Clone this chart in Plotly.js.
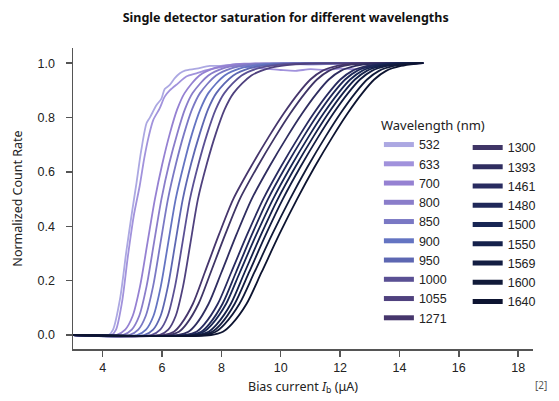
<!DOCTYPE html>
<html>
<head>
<meta charset="utf-8">
<script src="https://cdn.plot.ly/plotly-3.0.1.min.js"></script>
<style>html,body{margin:0;padding:0;background:#fff;}#chart{width:559px;height:401px;}</style>
</head>
<body>
<div id="chart"></div>
<script>
// Wavelengths (nm) and line colours
const wavelengths = ["532","633","700","800","850","900","950","1000","1055","1271","1300","1393","1461","1480","1500","1550","1569","1600","1640"];
const colors = ["#aca8e2","#a192dc","#9581d2","#8a7dca","#7a78c4","#6474c2","#5d67b2","#5a5094","#4f417e","#46366c","#3f3566","#2f2d60","#282b60","#1f2859","#182654","#15214b","#131d42","#111a39","#0d1431"];

// Bias current (uA) / normalized count rate
const x_532 = [3, 4.2, 4.35, 4.58, 4.8, 5.0, 5.14, 5.3, 5.48, 5.59, 5.81, 5.98, 6.09, 6.26, 6.43, 6.6, 6.77, 7.16, 7.61, 7.95, 8.5, 9.2, 10, 11, 12, 13, 14, 14.8];
const y_532 = [0, 0, 0.02, 0.13, 0.31, 0.46, 0.56, 0.68, 0.78, 0.80, 0.845, 0.87, 0.905, 0.92, 0.945, 0.963, 0.973, 0.98, 0.99, 0.99, 0.997, 0.993, 0.998, 0.995, 0.998, 0.997, 1.0, 1.0];
const x_633 = [3, 4.3, 4.45, 4.65, 4.85, 5.05, 5.25, 5.4, 5.55, 5.7, 5.92, 6.09, 6.26, 6.54, 6.82, 7.16, 7.5, 7.95, 8.5, 9, 9.5, 10, 10.5, 11, 11.5, 12, 12.5, 13, 13.5, 14, 14.8];
const y_633 = [0, 0, 0.02, 0.12, 0.29, 0.44, 0.55, 0.65, 0.73, 0.79, 0.834, 0.877, 0.90, 0.926, 0.951, 0.963, 0.975, 0.985, 0.99, 0.985, 0.98, 0.975, 0.972, 0.978, 0.975, 0.98, 0.978, 0.985, 0.99, 0.995, 1.0];

const y_mid = [0, 0, 0.02, 0.07, 0.18, 0.34, 0.50, 0.63, 0.74, 0.83, 0.89, 0.955, 0.982, 0.993, 0.998, 1.0];
const x_700  = [3, 4.46, 4.76, 5.01, 5.26, 5.51, 5.76, 6.01, 6.26, 6.51, 6.76, 7.26, 7.76, 8.26, 8.76, 14.8];
const x_800  = [3, 4.68, 4.98, 5.23, 5.48, 5.73, 5.98, 6.24, 6.51, 6.77, 7.03, 7.56, 8.08, 8.61, 9.13, 14.8];
const x_850  = [3, 4.90, 5.20, 5.45, 5.70, 5.95, 6.20, 6.47, 6.74, 7.01, 7.28, 7.82, 8.36, 8.90, 9.44, 14.8];
const x_900  = [3, 5.16, 5.46, 5.71, 5.96, 6.21, 6.46, 6.74, 7.01, 7.29, 7.56, 8.11, 8.66, 9.21, 9.76, 14.8];
const x_950  = [3, 5.40, 5.70, 5.95, 6.20, 6.45, 6.70, 6.98, 7.27, 7.55, 7.83, 8.40, 8.96, 9.53, 10.09, 14.8];
const x_1000 = [3, 5.64, 5.94, 6.19, 6.44, 6.69, 6.94, 7.23, 7.52, 7.81, 8.10, 8.68, 9.26, 9.84, 10.42, 14.8];
const x_1055 = [3, 5.91, 6.21, 6.46, 6.71, 6.96, 7.21, 7.51, 7.81, 8.11, 8.41, 9.01, 9.61, 10.21, 10.81, 14.8];

const y_ir = [0, 0, 0.012, 0.04, 0.115, 0.23, 0.37, 0.5, 0.62, 0.73, 0.815, 0.89, 0.94, 0.972, 0.99, 0.998, 1.0];
const x_1271 = [3, 6.08, 6.40, 6.64, 7.04, 7.44, 7.92, 8.40, 9.00, 9.60, 10.10, 10.60, 11.00, 11.40, 11.90, 12.40, 14.8];
const x_1300 = [3, 6.24, 6.57, 6.82, 7.23, 7.64, 8.13, 8.62, 9.22, 9.82, 10.32, 10.82, 11.22, 11.62, 12.12, 12.62, 14.8];
const x_1393 = [3, 6.55, 6.89, 7.15, 7.57, 8.00, 8.51, 9.02, 9.62, 10.22, 10.72, 11.22, 11.62, 12.02, 12.52, 13.02, 14.8];
const x_1461 = [3, 6.80, 7.16, 7.43, 7.88, 8.33, 8.87, 9.41, 10.01, 10.61, 11.11, 11.61, 12.01, 12.41, 12.91, 13.41, 14.8];
const x_1480 = [3, 6.96, 7.32, 7.59, 8.04, 8.49, 9.03, 9.57, 10.17, 10.77, 11.27, 11.77, 12.17, 12.57, 13.07, 13.57, 14.8];
const x_1500 = [3, 7.04, 7.41, 7.69, 8.16, 8.62, 9.18, 9.74, 10.34, 10.94, 11.44, 11.94, 12.34, 12.74, 13.24, 13.74, 14.8];
const x_1550 = [3, 7.20, 7.57, 7.85, 8.32, 8.78, 9.34, 9.90, 10.50, 11.10, 11.60, 12.10, 12.50, 12.90, 13.40, 13.90, 14.8];
const x_1569 = [3, 7.31, 7.69, 7.98, 8.45, 8.93, 9.50, 10.07, 10.67, 11.27, 11.77, 12.27, 12.67, 13.07, 13.57, 14.07, 14.8];
const x_1600 = [3, 7.41, 7.81, 8.11, 8.61, 9.11, 9.71, 10.31, 10.91, 11.51, 12.01, 12.51, 12.91, 13.31, 13.81, 14.31, 14.8];
const x_1640 = [3, 7.65, 8.05, 8.35, 8.85, 9.35, 9.95, 10.55, 11.15, 11.75, 12.25, 12.75, 13.15, 13.55, 14.05, 14.55, 14.8];

const xs = [x_532, x_633, x_700, x_800, x_850, x_900, x_950, x_1000, x_1055, x_1271, x_1300, x_1393, x_1461, x_1480, x_1500, x_1550, x_1569, x_1600, x_1640];
const ys = [y_532, y_633, y_mid, y_mid, y_mid, y_mid, y_mid, y_mid, y_mid, y_ir, y_ir, y_ir, y_ir, y_ir, y_ir, y_ir, y_ir, y_ir, y_ir];

const xTicks = [4, 6, 8, 10, 12, 14, 16, 18];
const yTicks = [0, 0.2, 0.4, 0.6, 0.8, 1.0];

const traces = [];
wavelengths.forEach((w, i) => {
  traces.push({
    x: xs[i], y: ys[i], type: 'scatter', mode: 'lines', name: w,
    line: {color: colors[i], width: 1.8, shape: 'spline', smoothing: 0.8},
    showlegend: false, legendgroup: w, hoverinfo: 'x+y+name'
  });
});
wavelengths.forEach((w, i) => {
  traces.push({
    x: [null], y: [null], type: 'scatter', mode: 'lines', name: w,
    line: {color: colors[i], width: 5},
    showlegend: true, legendgroup: w, legend: i < 10 ? 'legend' : 'legend2'
  });
});

const tickFont = {family: 'Liberation Sans, Arial, sans-serif', size: 12.5, color: '#222'};
const layout = {
  width: 559, height: 401,
  margin: {l: 73, r: 26, t: 48, b: 52},
  paper_bgcolor: '#fff', plot_bgcolor: '#fff',
  title: {text: '<b>Single detector saturation for different wavelengths</b>',
          font: {family: 'Noto Sans, sans-serif', size: 12.5, color: '#111'},
          x: 0.511, xanchor: 'center', xref: 'container', y: 0.956, yanchor: 'middle', yref: 'container'},
  xaxis: {
    range: [3, 18.5], tickvals: xTicks, ticktext: xTicks.map(String),
    showgrid: false, zeroline: false, showline: true, linecolor: '#555', linewidth: 1.5,
    ticks: 'outside', ticklen: 6, tickwidth: 1.5, tickcolor: '#555',
    tickfont: tickFont,
    title: {text: 'Bias current <i>I</i><sub>b</sub> (μA)', font: {family: 'Noto Sans, sans-serif', size: 12.5, color: '#222'}, standoff: 8}
  },
  yaxis: {
    range: [-0.0515, 1.056], tickvals: yTicks, ticktext: yTicks.map(v => v.toFixed(1)),
    showgrid: false, zeroline: false, showline: true, linecolor: '#555', linewidth: 1.5,
    ticks: 'outside', ticklen: 6, tickwidth: 1.5, tickcolor: '#555',
    tickfont: tickFont, ticklabelstandoff: 8,
    title: {text: 'Normalized Count Rate', font: {family: 'Noto Sans, sans-serif', size: 12.5, color: '#222'}, standoff: 12}
  },
  legend: {
    x: 0.665, xanchor: 'left', y: 0.784, yanchor: 'top',
    bgcolor: 'rgba(0,0,0,0)', borderwidth: 0, tracegroupgap: 0,
    font: {family: 'Liberation Sans, Arial, sans-serif', size: 12.5, color: '#222'},
    title: {text: 'Wavelength (nm)', font: {family: 'Noto Sans, sans-serif', size: 13, color: '#222'}}
  },
  legend2: {
    x: 0.858, xanchor: 'left', y: 0.718, yanchor: 'top',
    bgcolor: 'rgba(0,0,0,0)', borderwidth: 0, tracegroupgap: 0,
    font: {family: 'Liberation Sans, Arial, sans-serif', size: 12.5, color: '#222'}
  },
  annotations: [{
    text: '[2]', xref: 'paper', yref: 'paper', x: 1.017, y: -0.12,
    xanchor: 'center', yanchor: 'middle', showarrow: false,
    font: {family: 'Noto Sans, sans-serif', size: 10, color: '#555'}
  }]
};
Plotly.newPlot('chart', traces, layout, {displayModeBar: false, staticPlot: true});
</script>
</body>
</html>
